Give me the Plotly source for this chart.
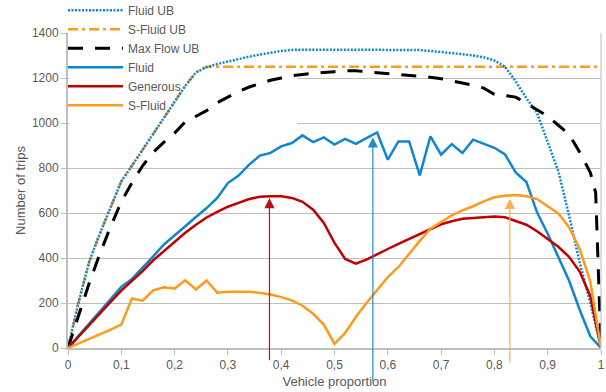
"""Trips versus vehicle proportion, with upper bounds and peak arrows."""

import plotly.graph_objects as go

# vehicle proportion grid (shared by most series)
vehicle_share = [0.00, 0.02, 0.04, 0.06, 0.08, 0.10, 0.12, 0.14, 0.16, 0.18,
                 0.20, 0.22, 0.24, 0.26, 0.28, 0.30, 0.32, 0.34, 0.36, 0.38,
                 0.40, 0.42, 0.44, 0.46, 0.48, 0.50, 0.52, 0.54, 0.56, 0.58,
                 0.60, 0.62, 0.64, 0.66, 0.68, 0.70, 0.72, 0.74, 0.76, 0.78,
                 0.80, 0.82, 0.84, 0.86, 0.88, 0.90, 0.92, 0.94, 0.96, 0.98,
                 1.00]

fluid_ub = [0, 205, 385, 510, 625, 741, 810, 880, 950, 1025,
            1095, 1165, 1225, 1248, 1262, 1274, 1284, 1295, 1304, 1313,
            1320, 1325, 1326, 1326, 1326, 1326, 1326, 1326, 1326, 1326,
            1326, 1326, 1325, 1324, 1320, 1316, 1312, 1306, 1300, 1292,
            1278, 1250, 1185, 1110, 1045, 910, 785, 590, 380, 200,
            0]

s_fluid_ub = [0, 205, 385, 510, 625, 741, 810, 880, 950, 1025,
              1095, 1165, 1225, 1250, 1250, 1250, 1250, 1250, 1250, 1250,
              1250, 1250, 1250, 1250, 1250, 1250, 1250, 1250, 1250, 1250,
              1250, 1250, 1250, 1250, 1250, 1250, 1250, 1250, 1250, 1250,
              1250, 1250, 1250, 1250, 1250, 1250, 1250, 1250, 1250, 1250,
              1250]

# max flow bound has one extra sample near 1
max_flow_share = vehicle_share[:-1] + [0.99, 1.00]
max_flow_ub = [0, 150, 290, 420, 540, 650, 735, 810, 870, 915,
               955, 1005, 1030, 1055, 1090, 1115, 1140, 1160, 1175, 1190,
               1200, 1210, 1216, 1222, 1225, 1228, 1232, 1232, 1228, 1225,
               1220, 1217, 1213, 1208, 1203, 1197, 1188, 1180, 1168, 1155,
               1128, 1122, 1115, 1088, 1060, 1030, 990, 950, 870, 780,
               690, 0]

fluid = [0, 55, 110, 163, 217, 271, 307, 356, 407, 460,
         499, 541, 582, 622, 667, 733, 766, 815, 855, 867,
         896, 911, 945, 915, 936, 904, 929, 907, 933, 958,
         837, 918, 918, 767, 941, 859, 906, 867, 926, 908,
         890, 860, 780, 738, 603, 508, 400, 300, 170, 52,
         0]

generous = [0, 52, 104, 155, 205, 255, 298, 342, 390, 432,
            472, 512, 548, 580, 605, 628, 645, 662, 672, 675,
            674, 667, 650, 615, 556, 467, 396, 375, 393, 415,
            440, 463, 485, 508, 530, 550, 563, 574, 578, 582,
            584, 581, 566, 548, 519, 485, 450, 405, 340, 230,
            0]

s_fluid = [0, 20, 40, 60, 82, 104, 220, 210, 256, 270,
           264, 301, 260, 300, 246, 250, 250, 250, 245, 238,
           226, 212, 188, 152, 104, 18, 67, 138, 200, 258,
           315, 360, 420, 476, 530, 560, 590, 612, 630, 652,
           670, 677, 680, 674, 662, 630, 598, 537, 440, 295,
           0]

# peak markers: (x, arrow tip, arrow tail below the axis)
peak_x = [0.378, 0.572, 0.829]
peak_tip = [667, 936, 663]
peak_tail = [-61, -154, -70]
peak_colors = ["#C0101A", "#1E8BD6", "#FFB04A"]

x_ticks = [0, 0.1, 0.2, 0.3, 0.4, 0.5, 0.6, 0.7, 0.8, 0.9, 1]
x_tick_labels = ["0", "0,1", "0,2", "0,3", "0,4", "0,5", "0,6", "0,7", "0,8", "0,9", "1"]
y_ticks = [0, 200, 400, 600, 800, 1000, 1200, 1400]

BLUE = "#0F86D1"
RED = "#C00000"
ORANGE = "#FF9A1A"
GRID = "#BFBFBF"
TEXT = "#595959"

fig = go.Figure()

# S-Fluid UB goes first so the dotted Fluid UB sits on top of it
fig.add_trace(go.Scatter(
    x=vehicle_share, y=s_fluid_ub, name="S-Fluid UB", mode="lines", legendrank=2,
    line={"color": ORANGE, "width": 2.5, "dash": "10px,4px,3px,4px"},
))
fig.add_trace(go.Scatter(
    x=vehicle_share, y=fluid_ub, name="Fluid UB", mode="lines", legendrank=1,
    line={"color": BLUE, "width": 2.5, "dash": "2px,1.5px"},
))
fig.add_trace(go.Scatter(
    x=max_flow_share, y=max_flow_ub, name="Max Flow UB", mode="lines", legendrank=3,
    line={"color": "black", "width": 3, "dash": "15px,12px"},
))
fig.add_trace(go.Scatter(
    x=vehicle_share, y=fluid, name="Fluid", mode="lines", legendrank=4,
    line={"color": BLUE, "width": 2.5},
))
fig.add_trace(go.Scatter(
    x=vehicle_share, y=generous, name="Generous", mode="lines", legendrank=5,
    line={"color": RED, "width": 2.5},
))
fig.add_trace(go.Scatter(
    x=vehicle_share, y=s_fluid, name="S-Fluid", mode="lines", legendrank=6,
    line={"color": ORANGE, "width": 2.5},
))
fig.update_traces(cliponaxis=False, hoverinfo="skip")

for px, tip, tail, color in zip(peak_x, peak_tip, peak_tail, peak_colors):
    fig.add_annotation(
        x=px, y=tip, ax=px, ay=tail, axref="x", ayref="y", text="",
        showarrow=True, arrowhead=2, arrowsize=1.7, arrowwidth=1.2, arrowcolor=color,
    )

# the legend box hides the grid lines behind it
fig.add_shape(type="rect", x0=0.003, x1=0.43, y0=985, y1=1365, layer="between",
              fillcolor="white", line={"width": 0})
fig.add_shape(type="line", xref="paper", yref="paper", x0=1, x1=1, y0=0, y1=1,
              line={"color": GRID, "width": 1})

fig.update_layout(
    width=606, height=392,
    margin={"l": 68, "r": 5, "t": 33, "b": 44, "autoexpand": False},
    plot_bgcolor="white", paper_bgcolor="white",
    font={"family": "Liberation Sans, Arial, sans-serif", "size": 12, "color": TEXT},
    legend={
        "x": -0.0094, "y": 1.118, "xanchor": "left", "yanchor": "top",
        "bgcolor": "rgba(0,0,0,0)", "font": {"size": 12, "color": TEXT},
        "itemwidth": 55, "tracegroupgap": 0,
    },
)
fig.update_xaxes(
    range=[0, 1], tickvals=x_ticks, ticktext=x_tick_labels,
    showgrid=False, zeroline=False, showline=True, linecolor=GRID, linewidth=1.5,
    ticks="outside", ticklen=5, tickcolor=GRID,
    title={"text": "Vehicle proportion", "font": {"size": 13, "color": TEXT}, "standoff": 6},
)
fig.update_yaxes(
    range=[0, 1400], tickvals=y_ticks,
    showgrid=True, gridcolor=GRID, gridwidth=1, zeroline=False,
    showline=True, linecolor=GRID, linewidth=2,
    ticks="outside", ticklen=5, tickcolor=GRID,
    title={"text": "Number of trips", "font": {"size": 13, "color": TEXT}, "standoff": 3},
)

# drop the default page margin so the chart fills the window
fig.write_html(
    "out.html",
    config={"displayModeBar": False},
    post_script="document.body.style.margin = '0';",
)
